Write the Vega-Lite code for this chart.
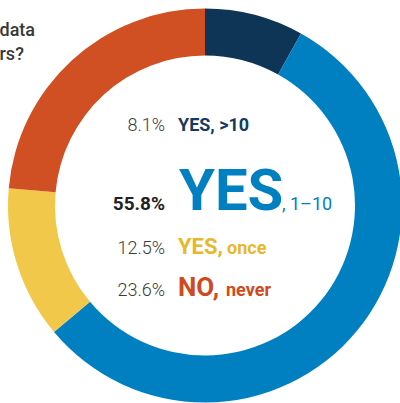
{
  "$schema": "https://vega.github.io/schema/vega-lite/v6.json",
  "width": 390,
  "height": 395,
  "autosize": {"type": "none"},
  "padding": {"left": 10, "top": 8, "right": 0, "bottom": 0},
  "background": "white",
  "config": {"view": {"stroke": null}, "font": "Roboto"},
  "title": {
    "text": ["data", "rs?"],
    "anchor": "start",
    "frame": "group",
    "align": "left",
    "baseline": "alphabetic",
    "offset": 0,
    "dx": -10.5,
    "dy": 70,
    "lineHeight": 24,
    "fontSize": 18,
    "fontWeight": 500,
    "font": "Roboto",
    "color": "#383838"
  },
  "data": {
    "values": [
      {"answer": "YES, >10", "share": 0.081, "k": 1, "head": "YES,", "tail": ">10"},
      {"answer": "YES, 1–10", "share": 0.558, "k": 2, "head": "YES", "tail": ", 1–10"},
      {"answer": "YES, once", "share": 0.125, "k": 3, "head": "YES,", "tail": "once"},
      {"answer": "NO, never", "share": 0.236, "k": 4, "head": "NO,", "tail": "never"}
    ]
  },
  "layer": [
    {
      "mark": {"type": "arc", "outerRadius": 197, "innerRadius": 150},
      "encoding": {
        "theta": {"field": "share", "type": "quantitative", "stack": true},
        "order": {"field": "k", "type": "quantitative"},
        "color": {
          "field": "answer",
          "type": "nominal",
          "scale": {
            "domain": ["YES, >10", "YES, 1–10", "YES, once", "NO, never"],
            "range": ["#0e3556", "#0080c1", "#f2c84b", "#d04f23"]
          },
          "legend": null
        }
      }
    },
    {
      "transform": [{"filter": "datum.k == 1"}],
      "mark": {"type": "text", "align": "right", "baseline": "alphabetic", "dx": -40, "dy": -74.5, "fontSize": 18, "fontWeight": 300, "color": "#3a3a3a"},
      "encoding": {"text": {"field": "share", "type": "quantitative", "format": ".1%"}}
    },
    {
      "transform": [{"filter": "datum.k == 1"}],
      "mark": {"type": "text", "align": "left", "baseline": "alphabetic", "dx": -27, "dy": -74.5, "fontSize": 18, "fontWeight": "bold", "color": "#163a5f"},
      "encoding": {"text": {"field": "answer", "type": "nominal"}}
    },
    {
      "transform": [{"filter": "datum.k == 2"}],
      "mark": {"type": "text", "align": "right", "baseline": "alphabetic", "dx": -40, "dy": 4.5, "fontSize": 19, "fontWeight": "bold", "color": "#222222"},
      "encoding": {"text": {"field": "share", "type": "quantitative", "format": ".1%"}}
    },
    {
      "transform": [{"filter": "datum.k == 2"}],
      "mark": {"type": "text", "align": "left", "baseline": "alphabetic", "dx": -26, "dy": 4.5, "fontSize": 58, "fontWeight": "bold", "color": "#0080c1"},
      "encoding": {"text": {"field": "head", "type": "nominal"}}
    },
    {
      "transform": [{"filter": "datum.k == 2"}],
      "mark": {"type": "text", "align": "left", "baseline": "alphabetic", "dx": 77, "dy": 4.5, "fontSize": 18, "color": "#0080c1"},
      "encoding": {"text": {"field": "tail", "type": "nominal"}}
    },
    {
      "transform": [{"filter": "datum.k == 3"}],
      "mark": {"type": "text", "align": "right", "baseline": "alphabetic", "dx": -40, "dy": 48.5, "fontSize": 18, "fontWeight": 300, "color": "#3a3a3a"},
      "encoding": {"text": {"field": "share", "type": "quantitative", "format": ".1%"}}
    },
    {
      "transform": [{"filter": "datum.k == 3"}],
      "mark": {"type": "text", "align": "left", "baseline": "alphabetic", "dx": -27, "dy": 48.5, "fontSize": 22, "fontWeight": "bold", "color": "#e8b72a"},
      "encoding": {"text": {"field": "head", "type": "nominal"}}
    },
    {
      "transform": [{"filter": "datum.k == 3"}],
      "mark": {"type": "text", "align": "left", "baseline": "alphabetic", "dx": 22, "dy": 48.5, "fontSize": 18, "fontWeight": "bold", "color": "#e8b72a"},
      "encoding": {"text": {"field": "tail", "type": "nominal"}}
    },
    {
      "transform": [{"filter": "datum.k == 4"}],
      "mark": {"type": "text", "align": "right", "baseline": "alphabetic", "dx": -40, "dy": 90.5, "fontSize": 18, "fontWeight": 300, "color": "#3a3a3a"},
      "encoding": {"text": {"field": "share", "type": "quantitative", "format": ".1%"}}
    },
    {
      "transform": [{"filter": "datum.k == 4"}],
      "mark": {"type": "text", "align": "left", "baseline": "alphabetic", "dx": -27, "dy": 90.5, "fontSize": 26, "fontWeight": "bold", "color": "#cf4b1f"},
      "encoding": {"text": {"field": "head", "type": "nominal"}}
    },
    {
      "transform": [{"filter": "datum.k == 4"}],
      "mark": {"type": "text", "align": "left", "baseline": "alphabetic", "dx": 21, "dy": 90.5, "fontSize": 18, "fontWeight": "bold", "color": "#cf4b1f"},
      "encoding": {"text": {"field": "tail", "type": "nominal"}}
    }
  ]
}
